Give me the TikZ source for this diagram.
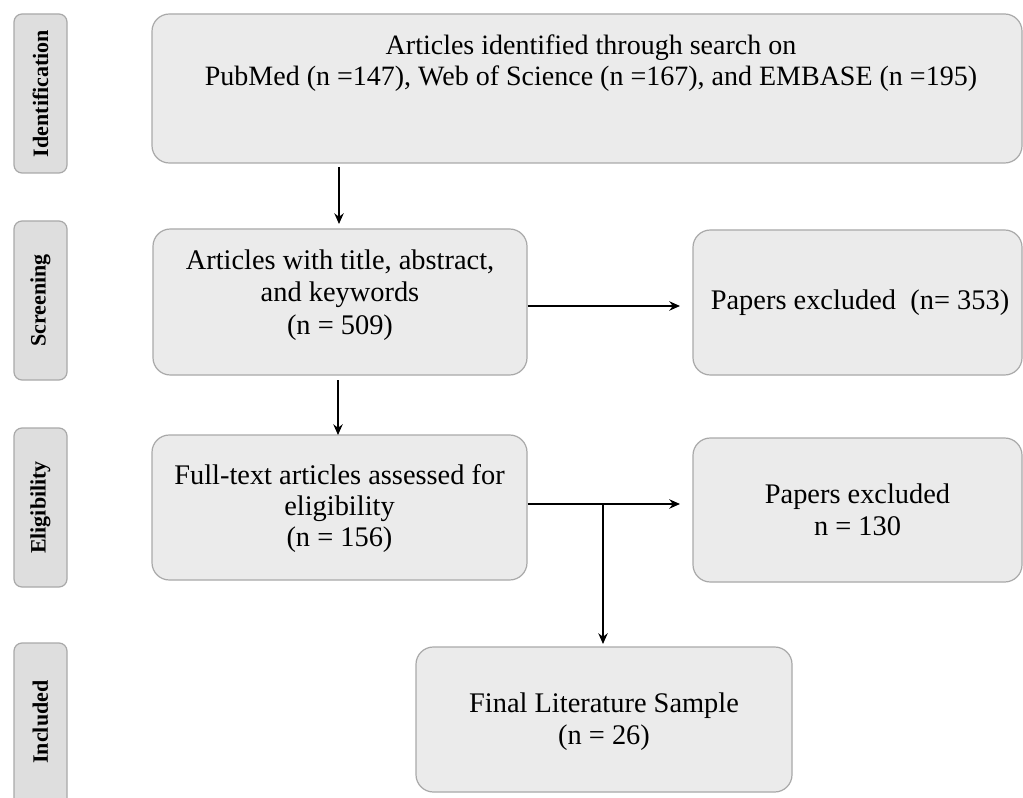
\documentclass[tikz,border=0pt]{standalone}
\usepackage{fontspec}
\setmainfont{Liberation Serif}
\usetikzlibrary{arrows.meta}
\definecolor{boxfill}{HTML}{EBEBEB}
\definecolor{boxline}{HTML}{A9A9A9}
\definecolor{sidefill}{HTML}{DEDEDE}
\begin{document}
\begin{tikzpicture}[x=0.75pt,y=-0.75pt,
  box/.style={draw=boxline, fill=boxfill, line width=0.9pt, rounded corners=13pt, inner sep=0pt},
  side/.style={draw=boxline, fill=sidefill, line width=0.9pt, rounded corners=6pt, inner sep=0pt,
               minimum width=39.75pt},
  sidetext/.style={rotate=90, font=\fontsize{16.5}{18}\selectfont\bfseries},
  txt/.style={align=center, font=\fontsize{21.3}{24}\selectfont},
  arr/.style={draw=black, line width=1.7pt, -{Stealth[length=8pt,width=7pt]}},
  ln/.style={draw=black, line width=1.7pt}]
\useasboundingbox (0,0) rectangle (1023,798);
\clip (0,0) rectangle (1023,798);
\fill[white] (0,0) rectangle (1023,798);

% side labels
\node[side, minimum height=119.25pt] (sid) at (40.5,93.5) {};
\node[sidetext] (sidt) at (sid.center) {Identification};
\node[side, minimum height=119.25pt] (ssc) at (40.5,300.5) {};
\node[sidetext] (ssct) at (ssc.center) {Screening};
\node[side, minimum height=119.25pt] (sel) at (40.5,507.5) {};
\node[sidetext] (selt) at (sel.center) {Eligibility};
\node[side, minimum height=126pt] (sin) at (40.5,727) {};
\node[sidetext] (sint) at (40.5,722) {Included};

% main boxes
\node[box, minimum width=652.5pt, minimum height=111.75pt] (id) at (587,88.5) {};
\node[txt, font=\fontsize{21}{23.25}\selectfont] (idt) at (591,63) {Articles identified through search on\\PubMed (n =147), Web of Science (n =167), and EMBASE (n =195)};

\node[box, minimum width=280.5pt, minimum height=109.5pt] (scr) at (340,302) {};
\node[txt, font=\fontsize{21.3}{24.5}\selectfont] (scrt) at (340,295) {Articles with title, abstract,\\and keywords\\(n = 509)};

\node[box, minimum width=246.75pt, minimum height=108.75pt] (ex1) at (857.5,302.5) {};
\node[txt] (ex1t) at (860,303) {Papers excluded~~(n= 353)};

\node[box, minimum width=281.25pt, minimum height=108.75pt] (eli) at (339.5,507.5) {};
\node[txt, font=\fontsize{21.3}{23.25}\selectfont] (elit) at (339.5,509) {Full-text articles assessed for\\eligibility\\(n = 156)};

\node[box, minimum width=246.75pt, minimum height=108pt] (ex2) at (857.5,510) {};
\node[txt] (ex2t) at (857.5,510) {Papers excluded\\n = 130};

\node[box, minimum width=282pt, minimum height=108.75pt] (fin) at (604,719.5) {};
\node[txt] (fint) at (604,722) {Final Literature Sample\\(n = 26)};

% connectors
\coordinate (a1s) at (339,167);
\coordinate (a1e) at (339,224);
\draw[arr, line width=1.2pt] (a1s) -- (a1e);
\coordinate (a2s) at (338,380);
\coordinate (a2e) at (338,435);
\draw[arr] (a2s) -- (a2e);
\coordinate (a3s) at (scr.east |- 0,306);
\coordinate (a3e) at (680,306);
\draw[arr] (a3s) -- (a3e);
\coordinate (a4s) at (eli.east |- 0,504);
\coordinate (a4e) at (680,504);
\draw[arr] (a4s) -- (a4e);
\coordinate (br) at (603,504);
\coordinate (a5e) at (603,644);
\draw[arr] (br) -- (a5e);
\end{tikzpicture}
\end{document}
